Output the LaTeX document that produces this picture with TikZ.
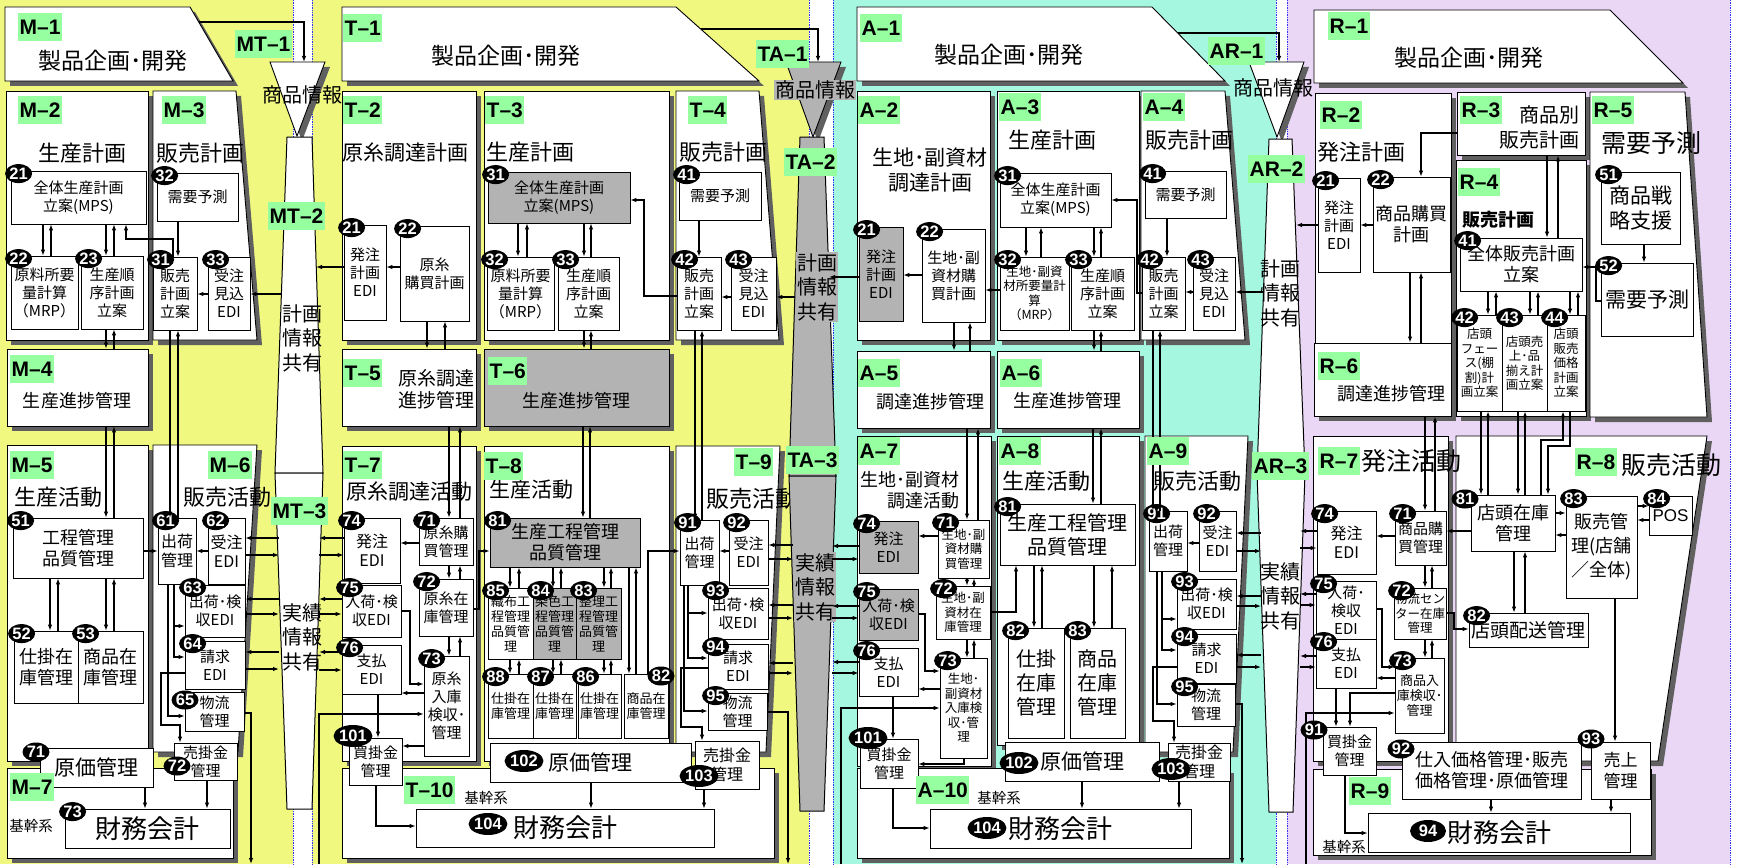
\documentclass[tikz,border=0pt]{standalone}
\usepackage{fontspec}
\setmainfont{Noto Sans CJK JP}
\newfontfamily\labfont{Liberation Sans}
\usetikzlibrary{shapes.geometric,shadows,arrows.meta}

\begin{document}
\begin{tikzpicture}[x=1pt,y=-1pt,>={Latex[length=6pt,width=4.5pt]},
    box/.style={draw,fill=white,line width=0.8pt,inner sep=0pt,align=center,font=\fontsize{15}{18}\selectfont},
    gfill/.style={fill=grayc},
    panel/.style={draw,fill=white,line width=0.9pt,drop shadow={shadow xshift=5pt,shadow yshift=-5pt,fill=shadowc,opacity=1}},
    bar/.style={draw,line width=1pt},
    bt/.style={font=\fontsize{20}{24.5}\selectfont,align=center,inner sep=1pt},
    num/.style={ellipse,fill=black,text=white,inner sep=0pt,minimum width=27pt,minimum height=19pt,font=\labfont\bfseries\fontsize{16.5}{16.5}\selectfont},
    numl/.style={num,minimum width=36pt,minimum height=22pt},
    tag/.style={fill=tagc,anchor=north west,inner xsep=1.5pt,inner ysep=0pt,minimum height=28pt,font=\labfont\bfseries\fontsize{21}{21}\selectfont},
    ar/.style={->,line width=1.1pt},
    f12/.style={font=\fontsize{12.5}{14.5}\selectfont},
    f13/.style={font=\fontsize{13}{15}\selectfont},
    f14/.style={font=\fontsize{14.5}{17}\selectfont},
    f16/.style={font=\fontsize{16}{19}\selectfont},
    f18/.style={font=\fontsize{18}{21}\selectfont},
    f19/.style={font=\fontsize{19}{22}\selectfont},
    f20/.style={font=\fontsize{20}{24}\selectfont},
    f21/.style={font=\fontsize{21}{25}\selectfont},
    f22/.style={font=\fontsize{22}{26}\selectfont},
    f23/.style={font=\fontsize{23}{26}\selectfont},
    f25/.style={font=\fontsize{25}{28}\selectfont},
    f26/.style={font=\fontsize{26}{30}\selectfont}]

    \definecolor{yelc}{HTML}{F0F880}
    \definecolor{cyac}{HTML}{A6F7E0}
    \definecolor{purc}{HTML}{EAD7F5}
    \definecolor{grayc}{HTML}{B3B3B3}
    \definecolor{shadowc}{HTML}{606060}
    \definecolor{tagc}{HTML}{96FFA0}

    % box from corners, with its number badge
    \newcommand{\blk}[8][]{%
      \pgfmathsetmacro\blkX{(#3+#5)/2}\pgfmathsetmacro\blkY{(#4+#6)/2}%
      \pgfmathsetmacro\blkW{#5-#3}\pgfmathsetmacro\blkH{#6-#4}%
      \node[box,minimum width=\blkW pt,minimum height=\blkH pt,#1] (#2) at (\blkX,\blkY) {#8};%
      \if\relax\detokenize{#7}\relax\else
        \node[num] (#2n) at ([shift={(8,3)}]#2.north west) {#7};\fi}
    % down and up arrow between two boxes
    \newcommand{\updown}[4]{%
      \draw[ar] (#1.south -| #3,0) -- (#2.north -| #3,0);
      \draw[ar] (#2.north -| #4,0) -- (#1.south -| #4,0);}

    \useasboundingbox (0,0) rectangle (1744,864);

    % Background bands
    \fill[white] (0,0) rectangle (1744,864);
    \fill[yelc] (0,0) rectangle (293,864);
    \fill[yelc] (312,0) rectangle (809,864);
    \fill[cyac] (833,0) rectangle (1276,864);
    \fill[purc] (1287,0) rectangle (1730,864);
    \foreach \x in {293,312,809,833,1276,1287,1730}
        \draw[blue!80,densely dotted,line width=0.7pt] (\x,0) -- (\x,864);

    % Bar edges
    \coordinate (mtl) at (279,0);  \coordinate (mtr) at (319,0);
    \coordinate (mtl2) at (281,0); \coordinate (mtr2) at (316,0);
    \coordinate (tal) at (793,0);  \coordinate (tar) at (832,0);
    \coordinate (tal2) at (795,0); \coordinate (tar2) at (829,0);
    \coordinate (arl) at (1261,0); \coordinate (arr) at (1300,0);
    \coordinate (arl2) at (1264,0); \coordinate (arr2) at (1296,0);
    \coordinate (mtf) at (304,62); \coordinate (taf) at (818,62); \coordinate (arf) at (1279,62);

    % Panels M
    \draw[panel] (5,7) -- (190,7) -- (233,81) -- (5,81) -- cycle;
    \blk[panel]{m2}{6}{91}{148}{340}{}{}
    \draw[panel] (153,91) -- (236,91) -- (257,340) -- (153,340) -- cycle;
    \blk[panel]{m4}{7}{349}{148}{426}{}{}
    \blk[panel]{m5}{7}{445}{148}{761}{}{}
    \draw[panel] (153,445) -- (257,445) -- (238,752) -- (153,752) -- cycle;
    \blk[panel]{m7}{7}{768}{233}{858}{}{}

    % Panels T
    \draw[panel] (342,7) -- (676,7) -- (759,81) -- (342,81) -- cycle;
    \blk[panel]{t2}{342}{91}{476}{340}{}{}
    \blk[panel]{t3}{484}{91}{669}{340}{}{}
    \draw[panel] (676,91) -- (759,91) -- (779,340) -- (676,340) -- cycle;
    \blk[panel]{t5}{342}{349}{476}{426}{}{}
    \blk[panel,gfill]{t6}{484}{349}{669}{426}{}{}
    \blk[panel]{t7}{342}{446}{476}{761}{}{}
    \blk[panel]{t8}{484}{446}{669}{761}{}{}
    \draw[panel] (676,446) -- (780,446) -- (766,752) -- (676,752) -- cycle;
    \blk[panel]{t10}{342}{768}{774}{858}{}{}

    % Panels A
    \draw[panel] (857,7) -- (1152,7) -- (1225,81) -- (857,81) -- cycle;
    \blk[panel]{a2}{857}{91}{990}{340}{}{}
    \blk[panel]{a3}{997}{91}{1139}{340}{}{}
    \draw[panel] (1141,91) -- (1225,91) -- (1245,340) -- (1141,340) -- cycle;
    \blk[panel]{a5}{857}{351}{990}{428}{}{}
    \blk[panel]{a6}{997}{351}{1139}{428}{}{}
    \blk[panel]{a7}{857}{436}{991}{766}{}{}
    \blk[panel]{a8}{997}{436}{1139}{745}{}{}
    \draw[panel] (1145,436) -- (1248,436) -- (1233,752) -- (1145,752) -- cycle;
    \blk[panel]{a10}{857}{768}{1229}{858}{}{}

    % Panels R
    \draw[panel] (1314,10) -- (1610,10) -- (1683,83) -- (1314,83) -- cycle;
    \blk[panel]{r2}{1315}{93}{1451}{343}{}{}
    \blk[panel]{r3}{1457}{92}{1585}{155}{}{}
    \blk[panel]{r4}{1456}{160}{1586}{416}{}{}
    \draw[panel] (1590,92) -- (1685,92) -- (1707,417) -- (1590,417) -- cycle;
    \blk[panel]{r6}{1314}{343}{1451}{416}{}{}
    \blk[panel]{r7}{1313}{436}{1448}{761}{}{}
    \draw[panel] (1456,436) -- (1707,436) -- (1658,761) -- (1456,761) -- cycle;
    \blk[panel]{r9}{1313}{769}{1651}{855}{}{}

    % Panel titles
    \node[f23] (m1t) at (113,61) {製品企画･開発};
    \node[f22] (m2t) at (82,153) {生産計画};
    \node[f22] (m3t) at (200,153) {販売計画};
    \node[f18] (m4t) at (77,401) {生産進捗管理};
    \node[f22] (m5t) at (58,497) {生産活動};
    \node[f22] (m6t) at (227,497) {販売活動};
    \node[f14] (m7t) at (31,826) {基幹系};
    \node[f23] (t1t) at (506,56) {製品企画･開発};
    \node[f21] (t2t) at (405,153) {原糸調達計画};
    \node[f22] (t3t) at (530,152) {生産計画};
    \node[f22] (t4t) at (723,152) {販売計画};
    \node[f19,align=center] (t5t) at (436,389) {原糸調達\\進捗管理};
    \node[f18] (t6t) at (576,401) {生産進捗管理};
    \node[f21] (t7t) at (409,492) {原糸調達活動};
    \node[f21] (t8t) at (531,490) {生産活動};
    \node[f23] (t9t) at (752,499) {販売活動};
    \node[f14] (t10t) at (486,798) {基幹系};
    \node[f23] (a1t) at (1009,55) {製品企画･開発};
    \node[f21,align=center] (a2t) at (930,170) {生地･副資材\\調達計画};
    \node[f22] (a3t) at (1052,140) {生産計画};
    \node[f22] (a4t) at (1189,140) {販売計画};
    \node[f18] (a5t) at (930,402) {調達進捗管理};
    \node[f18] (a6t) at (1067,401) {生産進捗管理};
    \node[f18,align=right,anchor=east] (a7t) at (963,490) {生地･副資材\\調達活動};
    \node[f22] (a8t) at (1046,481) {生産活動};
    \node[f22] (a9t) at (1197,481) {販売活動};
    \node[f14] (a10t) at (999,798) {基幹系};
    \node[f23] (r1t) at (1469,58) {製品企画･開発};
    \node[f22] (r2t) at (1361,152) {発注計画};
    \node[font=\fontsize{20}{25}\selectfont,align=right,anchor=east] (r3t) at (1583,127) {商品別\\販売計画};
    \node[font=\bfseries\fontsize{18}{21}\selectfont,anchor=west] (r4t) at (1459,220) {販売計画};
    \node[f25] (r5t) at (1651,143) {需要予測};
    \node[f18] (r6t) at (1391,394) {調達進捗管理};
    \node[f25] (r7t) at (1411,461) {発注活動};
    \node[f25] (r8t) at (1671,465) {販売活動};
    \node[f14] (r9t) at (1344,847) {基幹系};

    % Bars MT, TA, AR
    \draw[panel] (270,62) -- (325,62) -- (297,136) -- cycle;
    \draw[bar,fill=white] (287,137) -- (312,137) -- (323,473) -- (275,473) -- cycle;
    \draw[bar,fill=white] (275,473) -- (323,473) -- (312,809) -- (287,809) -- cycle;
    \node[bt] (mti) at (302,95) {商品情報};
    \node[bt] (mtp) at (302,338) {計画\\情報\\共有};
    \node[bt] (mtj) at (302,637) {実績\\情報\\共有};
    \draw[panel,fill=grayc] (786,62) -- (841,62) -- (813,137) -- cycle;
    \draw[bar,fill=grayc] (800,137) -- (824,137) -- (836,476) -- (789,476) -- cycle;
    \draw[bar,fill=grayc] (789,476) -- (836,476) -- (824,811) -- (800,811) -- cycle;
    \node[bt,fill=grayc] (tai) at (815,90) {商品情報};
    \node[bt,fill=grayc] (tap) at (817,287) {計画\\情報\\共有};
    \node[bt,fill=grayc] (taj) at (815,587) {実績\\情報\\共有};
    \draw[panel] (1249,62) -- (1304,62) -- (1277,137) -- cycle;
    \draw[bar,fill=white] (1269,139) -- (1292,139) -- (1305,473) -- (1257,473) -- cycle;
    \draw[bar,fill=white] (1257,473) -- (1305,473) -- (1293,812) -- (1269,812) -- cycle;
    \node[bt] (ari) at (1273,88) {商品情報};
    \node[bt] (arp) at (1280,293) {計画\\情報\\共有};
    \node[bt] (arj) at (1280,596) {実績\\情報\\共有};

    % Boxes M
    \blk{m21}{11}{171}{146}{224}{21}{全体生産計画\\立案(MPS)}
    \blk{m22}{11}{256}{78}{329}{22}{原料所要\\量計算\\（MRP）}
    \blk{m23}{81}{256}{143}{329}{23}{生産順\\序計画\\立案}
    \blk{m32}{157}{173}{238}{221}{32}{需要予測}
    \blk{m31}{153}{257}{197}{330}{31}{販売\\計画\\立案}
    \blk{m33}{208}{257}{250}{330}{33}{受注\\見込\\EDI}
    \blk[f18]{m51}{13}{518}{143}{578}{51}{工程管理\\品質管理}
    \blk[f18]{m52}{14}{631}{78}{703}{52}{仕掛在\\庫管理}
    \blk[f18]{m53}{78}{631}{143}{703}{53}{商品在\\庫管理}
    \blk[f16]{m61}{158}{518}{196}{584}{61}{出荷\\管理}
    \blk[f16]{m62}{208}{518}{245}{584}{62}{受注\\EDI}
    \blk{m63}{185}{585}{245}{637}{63}{出荷･検\\収EDI}
    \blk{m64}{185}{641}{245}{689}{64}{請求\\EDI}
    \blk{m65}{185}{692}{244}{731}{}{物流\\管理}
    \blk{m72}{174}{743}{237}{780}{}{売掛金\\管理}
    \blk[f21]{m71}{40}{748}{153}{787}{}{原価管理}
    \blk[f26]{m73}{65}{809}{230}{848}{73}{財務会計}

    % Boxes T
    \blk{t21}{344}{225}{386}{320}{21}{発注\\計画\\EDI}
    \blk{t22}{400}{226}{469}{321}{22}{原糸\\購買計画}
    \blk[gfill]{t31}{488}{172}{630}{223}{31}{全体生産計画\\立案(MPS)}
    \blk{t32}{487}{257}{554}{330}{32}{原料所要\\量計算\\（MRP）}
    \blk{t33}{558}{257}{619}{330}{33}{生産順\\序計画\\立案}
    \blk{t41}{679}{172}{761}{220}{41}{需要予測}
    \blk{t42}{677}{257}{721}{330}{42}{販売\\計画\\立案}
    \blk{t43}{731}{257}{776}{330}{43}{受注\\見込\\EDI}
    \blk[f16]{t74}{344}{518}{400}{583}{74}{発注\\EDI}
    \blk{t71}{419}{518}{473}{565}{71}{原糸購\\買管理}
    \blk{t72}{419}{579}{473}{636}{72}{原糸在\\庫管理}
    \blk{t75}{342}{585}{401}{637}{75}{入荷･検\\収EDI}
    \blk{t76}{342}{645}{401}{694}{76}{支払\\EDI}
    \blk{t73}{424}{656}{469}{756}{73}{原糸\\入庫\\検収･\\管理}
    \blk{t101}{349}{738}{402}{785}{}{買掛金\\管理}
    \blk[gfill,f18]{t81}{490}{518}{640}{567}{81}{生産工程管理\\品質管理}
    \blk[f13]{t85}{488}{588}{533}{659}{85}{織布工\\程管理\\品質管\\理}
    \blk[f13,gfill]{t84}{533}{588}{576}{659}{84}{染色工\\程管理\\品質管\\理}
    \blk[f13,gfill]{t83}{576}{588}{621}{659}{83}{整理工\\程管理\\品質管\\理}
    \blk[f13]{t88}{488}{674}{533}{738}{88}{仕掛在\\庫管理}
    \blk[f13]{t87}{533}{674}{576}{738}{87}{仕掛在\\庫管理}
    \blk[f13]{t86}{578}{674}{621}{738}{86}{仕掛在\\庫管理}
    \blk[f13]{t82}{624}{674}{668}{738}{}{商品在\\庫管理}
    \blk[f21]{t102}{490}{743}{691}{782}{}{原価管理}
    \blk[f16]{t103}{695}{741}{759}{789}{}{売掛金\\管理}
    \blk[f26]{t104}{416}{809}{714}{847}{}{財務会計}
    \blk{t91}{680}{520}{719}{585}{91}{出荷\\管理}
    \blk{t92}{729}{520}{768}{585}{92}{受注\\EDI}
    \blk{t93}{708}{588}{768}{639}{93}{出荷･検\\収EDI}
    \blk{t94}{708}{644}{768}{689}{94}{請求\\EDI}
    \blk{t95}{708}{693}{767}{730}{95}{物流\\管理}

    % Boxes A
    \blk[gfill]{a21}{859}{227}{903}{321}{21}{発注\\計画\\EDI}
    \blk{a22}{922}{229}{985}{322}{22}{生地･副\\資材購\\買計画}
    \blk{a31}{1000}{173}{1111}{227}{31}{全体生産計画\\立案(MPS)}
    \blk[f12]{a32}{1000}{257}{1069}{330}{32}{生地･副資\\材所要量計\\算\\（MRP）}
    \blk{a33}{1071}{257}{1134}{330}{33}{生産順\\序計画\\立案}
    \blk{a41}{1145}{171}{1226}{218}{41}{需要予測}
    \blk{a42}{1142}{257}{1185}{330}{42}{販売\\計画\\立案}
    \blk{a43}{1193}{257}{1235}{330}{43}{受注\\見込\\EDI}
    \blk[gfill]{a74}{859}{521}{918}{573}{74}{発注\\EDI}
    \blk[f12]{a71}{938}{520}{989}{578}{71}{生地･副\\資材購\\買管理}
    \blk[f12]{a72}{936}{586}{990}{639}{72}{生地･副\\資材在\\庫管理}
    \blk[f12]{a73}{940}{658}{987}{758}{73}{生地･\\副資材\\入庫検\\収･管\\理}
    \blk[gfill]{a75}{859}{589}{918}{640}{75}{入荷･検\\収EDI}
    \blk{a76}{859}{648}{918}{696}{76}{支払\\EDI}
    \blk{a101}{860}{739}{918}{788}{}{買掛金\\管理}
    \blk[f20]{a81}{1000}{504}{1135}{565}{81}{生産工程管理\\品質管理}
    \blk[f20]{a82}{1008}{628}{1064}{738}{82}{仕掛\\在庫\\管理}
    \blk[f20]{a83}{1070}{628}{1125}{738}{83}{商品\\在庫\\管理}
    \blk[f21]{a102}{1005}{742}{1159}{781}{}{原価管理}
    \blk[f16]{a103}{1168}{743}{1230}{781}{}{売掛金\\管理}
    \blk[f26]{a104}{930}{809}{1191}{848}{}{財務会計}
    \blk{a91}{1149}{511}{1187}{571}{91}{出荷\\管理}
    \blk{a92}{1199}{511}{1236}{571}{92}{受注\\EDI}
    \blk{a93}{1177}{579}{1236}{629}{93}{出荷･検\\収EDI}
    \blk{a94}{1177}{634}{1236}{683}{94}{請求\\EDI}
    \blk{a95}{1177}{684}{1235}{726}{95}{物流\\管理}

    % Boxes R
    \blk{r21}{1318}{178}{1360}{272}{21}{発注\\計画\\EDI}
    \blk[f18]{r22}{1373}{177}{1450}{272}{22}{商品購買\\計画}
    \blk[f18]{r41}{1460}{238}{1582}{291}{41}{全体販売計画\\立案}
    \blk[f12]{r42}{1457}{315}{1502}{411}{42}{店頭\\フェー\\ス(棚\\割)計\\画立案}
    \blk[f12]{r43}{1502}{315}{1547}{411}{43}{店頭売\\上･品\\揃え計\\画立案}
    \blk[f12]{r44}{1547}{315}{1585}{411}{44}{店頭\\販売\\価格\\計画\\立案}
    \blk[f21]{r51}{1601}{172}{1680}{244}{51}{商品戦\\略支援}
    \blk[f21]{r52}{1601}{263}{1693}{336}{52}{需要予測}
    \blk[f16]{r74}{1317}{511}{1376}{574}{74}{発注\\EDI}
    \blk{r71}{1395}{511}{1446}{565}{71}{商品購\\買管理}
    \blk{r75}{1316}{581}{1376}{639}{75}{入荷･\\検収\\EDI}
    \blk{r76}{1316}{639}{1376}{688}{76}{支払\\EDI}
    \blk[f12]{r72}{1394}{588}{1446}{639}{72}{物流セン\\ター在庫\\管理}
    \blk[f13]{r73}{1395}{658}{1444}{733}{73}{商品入\\庫検収･\\管理}
    \blk{r91}{1323}{727}{1376}{775}{}{買掛金\\管理}
    \blk[f18]{r81}{1471}{495}{1555}{551}{}{店頭在庫\\管理}
    \blk[font=\fontsize{18}{24}\selectfont]{r83}{1566}{496}{1637}{598}{83}{販売管\\理(店舗\\／全体)}
    \blk[font=\labfont\fontsize{17}{17}\selectfont]{r84}{1649}{496}{1692}{535}{84}{POS}
    \blk[f19]{r82}{1469}{613}{1588}{647}{82}{店頭配送管理}
    \blk[f18]{r92}{1402}{742}{1581}{799}{}{仕入価格管理･販売\\価格管理･原価管理}
    \blk[font=\fontsize{17}{21}\selectfont]{r93}{1591}{742}{1650}{799}{}{売上\\管理}
    \blk[f26]{r94}{1368}{813}{1630}{852}{}{財務会計}

    % Arrows M
    \draw[ar] (199,22) -| (mtf);
    \updown{m21}{m22}{43}{51}
    \updown{m21}{m23}{106}{114}
    \updown{m23}{m4}{106}{114}
    \updown{m4}{m51}{106}{114}
    \updown{m51}{m52}{50}{58}
    \updown{m51}{m53}{106}{114}
    \updown{m31}{m61}{170}{178}
    \draw[ar] (m32.south -| 178,0) -- (m31.north -| 178,0);
    \draw[ar] (m31.north -| 173,0) -- (173,239) -- (126,239) -- (m21.south -| 126,0);
    \draw[ar] (m33.west |- 0,294) -- (m31.east |- 0,294);
    \draw[ar] (mtl2 |- 0,294) -- (m33.east |- 0,294);
    \draw[ar] (mtl |- 0,538) -- (m62.east |- 0,538);
    \draw[ar] (m62.east |- 0,555) -- (mtl |- 0,555);
    \draw[ar] (m62.west |- 0,551) -- (m61.east |- 0,551);
    \draw[ar] (m51.east |- 0,551) -- (m61.west |- 0,551);
    \draw[ar] (mtl |- 0,599) -- (m63.east |- 0,599);
    \draw[ar] (m63.east |- 0,614) -- (mtl |- 0,614);
    \draw[ar] (mtl |- 0,652) -- (m64.east |- 0,652);
    \draw[ar] (m64.east |- 0,669) -- (mtl |- 0,669);
    \draw[ar] (m61.south -| 174,0) |- (m63.west |- 0,626);
    \draw[ar] (m61.south -| 174,0) |- (m64.west |- 0,657);
    \draw[ar] (m61.south -| 168,0) |- (m65.west |- 0,716);
    \draw[ar] (m64.west |- 0,673) -- (161,673) -- (161,725) -- (180,725) -- (m72.north -| 180,0);
    \draw[ar] (m65.east |- 0,713) -- (251,713) -- (251,864);
    \draw[ar] (m71.south -| 145,0) -- (m73.north -| 145,0);
    \draw[ar] (m72.south -| 207,0) -- (m73.north -| 207,0);

    % Arrows T
    \draw[ar] (701,29) -| (taf);
    \draw[ar] (t22.west |- 0,267) -- (t21.east |- 0,267);
    \draw[ar] (t21.west |- 0,267) -- (mtr2 |- 0,267);
    \updown{t22}{t5}{427}{445}
    \updown{t31}{t32}{518}{527}
    \updown{t31}{t33}{584}{591}
    \updown{t33}{t6}{584}{591}
    \draw[ar] (t41.south -| 699,0) -- (t42.north -| 699,0);
    \draw[ar] (t43.west |- 0,297) -- (t42.east |- 0,297);
    \draw[ar] (tal2 |- 0,297) -- (t43.east |- 0,297);
    \draw[ar] (t42.west |- 0,296) -- (644,296) -- (644,200) -- (t31.east |- 0,200);
    \updown{t42}{t91}{695}{702}
    \updown{t5}{t71}{449}{460}
    \updown{t6}{t81}{583}{590}
    \updown{t71}{t72}{449}{460}
    \updown{t72}{t73}{449}{460}
    \draw[ar] (t71.west |- 0,543) -- (t74.east |- 0,543);
    \draw[ar] (t74.west |- 0,538) -- (mtr |- 0,538);
    \draw[ar] (mtr |- 0,555) -- (t74.west |- 0,555);
    \draw[ar] (t75.west |- 0,599) -- (mtr |- 0,599);
    \draw[ar] (mtr |- 0,614) -- (t75.west |- 0,614);
    \draw[ar] (t76.west |- 0,652) -- (mtr |- 0,652);
    \draw[ar] (mtr |- 0,670) -- (t76.west |- 0,670);
    \draw[ar] (t72.east |- 0,609) -- (479,609) -- (479,551) -- (t81.west |- 0,551);
    \draw[ar] (t75.east |- 0,611) -- (410,611) -- (410,684) -- (t73.west |- 0,684);
    \draw[ar] (t73.west |- 0,693) -- (t76.east |- 0,693);
    \draw[ar] (319,864) -- (319,714) -- (t73.west |- 0,714);
    \draw[ar] (t76.south -| 378,0) -- (t101.north -| 378,0);
    \draw[ar] (t73.west |- 0,746) -- (t101.east |- 0,746);
    \draw[ar] (t101.south -| 376,0) -- (376,826) -- (t104.west |- 0,826);
    \updown{t81}{t85}{510}{519}
    \updown{t81}{t84}{553}{561}
    \updown{t81}{t83}{604}{611}
    \updown{t85}{t88}{510}{519}
    \updown{t84}{t87}{553}{561}
    \updown{t83}{t86}{604}{611}
    \updown{t81}{t82}{629}{636}
    \draw[ar] (t82.north -| 648,0) -- (648,551) -- (t91.west |- 0,551);
    \draw[ar] (t92.west |- 0,551) -- (t91.east |- 0,551);
    \draw[ar] (tal |- 0,545) -- (t92.east |- 0,545);
    \draw[ar] (t92.east |- 0,559) -- (tal |- 0,559);
    \draw[ar] (tal |- 0,605) -- (t93.east |- 0,605);
    \draw[ar] (t93.east |- 0,618) -- (tal |- 0,618);
    \draw[ar] (tal |- 0,663) -- (t94.east |- 0,663);
    \draw[ar] (t94.east |- 0,673) -- (tal |- 0,673);
    \draw[ar] (t91.south -| 688,0) |- (t93.west |- 0,613);
    \draw[ar] (t91.south -| 688,0) |- (t94.west |- 0,658);
    \draw[ar] (t91.south -| 684,0) |- (t95.west |- 0,711);
    \draw[ar] (t94.west |- 0,668) -- (681,668) -- (681,727) -- (702,727) -- (t103.north -| 702,0);
    \draw[ar] (t95.east |- 0,712) -- (788,712) -- (788,864);
    \draw[ar] (t102.south -| 591,0) -- (t104.north -| 591,0);
    \draw[ar] (t103.south -| 704,0) -- (t104.north -| 704,0);

    % Arrows A
    \draw[ar] (1178,33) -| (arf);
    \draw[ar] (a22.west |- 0,275) -- (a21.east |- 0,275);
    \draw[ar] (a21.west |- 0,277) -- (tar2 |- 0,277);
    \draw[ar] (a32.west |- 0,290) -- (a22.east |- 0,290);
    \updown{a22}{a5}{954}{970}
    \updown{a31}{a32}{1026}{1041}
    \updown{a31}{a33}{1094}{1101}
    \updown{a33}{a6}{1094}{1101}
    \draw[ar] (a41.south -| 1167,0) -- (a42.north -| 1167,0);
    \draw[ar] (a43.west |- 0,292) -- (a42.east |- 0,292);
    \draw[ar] (arl2 |- 0,292) -- (a43.east |- 0,292);
    \draw[ar] (a42.west |- 0,293) -- (1137,293) -- (1137,200) -- (a31.east |- 0,200);
    \updown{a42}{a91}{1153}{1160}
    \updown{a5}{a71}{967}{978}
    \updown{a6}{a81}{1093}{1101}
    \updown{a71}{a72}{967}{974}
    \updown{a72}{a73}{967}{974}
    \draw[ar] (a71.west |- 0,536) -- (a74.east |- 0,536);
    \draw[ar] (a74.west |- 0,546) -- (tar |- 0,546);
    \draw[ar] (tar |- 0,559) -- (a74.west |- 0,559);
    \draw[ar] (a75.west |- 0,606) -- (tar |- 0,606);
    \draw[ar] (tar |- 0,618) -- (a75.west |- 0,618);
    \draw[ar] (a76.west |- 0,662) -- (tar |- 0,662);
    \draw[ar] (tar |- 0,673) -- (a76.west |- 0,673);
    \draw[ar] (a72.east |- 0,612) -- (1016,612) -- (a81.south -| 1016,0);
    \draw[ar] (a75.east |- 0,614) -- (925,614) -- (925,671) -- (a73.west |- 0,671);
    \draw[ar] (a73.west |- 0,689) -- (a76.east |- 0,689);
    \draw[ar] (841,864) -- (841,708) -- (a73.west |- 0,708);
    \draw[ar] (a76.south -| 893,0) -- (a101.north -| 893,0);
    \draw[ar] (a73.south -| 964,0) -- (964,764) -- (a101.east |- 0,764);
    \draw[ar] (a101.south -| 893,0) -- (893,828) -- (a104.west |- 0,828);
    \updown{a81}{a82}{1034}{1042}
    \updown{a81}{a83}{1094}{1112}
    \draw[ar] (a102.south -| 1082,0) -- (a104.north -| 1082,0);
    \draw[ar] (a103.south -| 1179,0) -- (a104.north -| 1179,0);
    \draw[ar] (a92.west |- 0,543) -- (a91.east |- 0,543);
    \draw[ar] (arl |- 0,533) -- (a92.east |- 0,533);
    \draw[ar] (a92.east |- 0,551) -- (arl |- 0,551);
    \draw[ar] (arl |- 0,596) -- (a93.east |- 0,596);
    \draw[ar] (a93.east |- 0,606) -- (arl |- 0,606);
    \draw[ar] (arl |- 0,655) -- (a94.east |- 0,655);
    \draw[ar] (a94.east |- 0,667) -- (arl |- 0,667);
    \draw[ar] (a91.south -| 1162,0) |- (a93.west |- 0,619);
    \draw[ar] (a91.south -| 1162,0) |- (a94.west |- 0,650);
    \draw[ar] (a91.south -| 1157,0) |- (a95.west |- 0,704);
    \draw[ar] (a94.west |- 0,667) -- (1153,667) -- (1153,721) -- (1174,721) -- (a103.north -| 1174,0);
    \draw[ar] (a95.east |- 0,704) -- (1242,704) -- (1242,864);

    % Arrows R
    \draw[ar] (r22.west |- 0,225) -- (r21.east |- 0,225);
    \draw[ar] (r21.west |- 0,225) -- (arr2 |- 0,225);
    \draw[ar] (r3.west |- 0,133) -- (1421,133) -- (r22.north -| 1421,0);
    \updown{r22}{r6}{1410}{1421}
    \updown{r3}{r41}{1547}{1558}
    \draw[ar] (r52.west |- 0,301) -- (1596,301) -- (1596,267) -- (r41.east |- 0,267);
    \draw[ar] (r51.south -| 1644,0) -- (r52.north -| 1644,0);
    \updown{r41}{r42}{1488}{1496}
    \updown{r41}{r43}{1530}{1538}
    \updown{r41}{r44}{1570}{1578}
    \updown{r6}{r71}{1425}{1435}
    \updown{r42}{r81}{1481}{1488}
    \updown{r43}{r81}{1518}{1525}
    \draw[ar] (r44.south -| 1570,0) -- (1570,446) -- (1548,446) -- (r81.north -| 1548,0);
    \draw[ar] (r81.north -| 1541,0) -- (1541,440) -- (1563,440) -- (r44.south -| 1563,0);
    \draw[ar] (r81.west |- 0,531) -- (r71.east |- 0,531);
    \draw[ar] (r81.east |- 0,513) -- (r83.west |- 0,513);
    \draw[ar] (r83.west |- 0,535) -- (r81.east |- 0,535);
    \draw[ar] (r83.east |- 0,506) -- (r84.west |- 0,506);
    \draw[ar] (r84.west |- 0,520) -- (r83.east |- 0,520);
    \updown{r81}{r82}{1514}{1525}
    \draw[ar] (r83.south -| 1615,0) -- (r93.north -| 1615,0);
    \draw[ar] (r71.west |- 0,536) -- (r74.east |- 0,536);
    \draw[ar] (r74.west |- 0,531) -- (arr |- 0,531);
    \draw[ar] (arr |- 0,548) -- (r74.west |- 0,548);
    \draw[ar] (r75.west |- 0,594) -- (arr |- 0,594);
    \draw[ar] (arr |- 0,605) -- (r75.west |- 0,605);
    \draw[ar] (r76.west |- 0,656) -- (arr |- 0,656);
    \draw[ar] (arr |- 0,667) -- (r76.west |- 0,667);
    \updown{r71}{r72}{1425}{1432}
    \updown{r72}{r73}{1425}{1432}
    \draw[ar] (r72.east |- 0,613) -- (1454,613) -- (1454,629) -- (r82.west |- 0,629);
    \draw[ar] (r75.east |- 0,609) -- (1382,609) -- (1382,667) -- (r73.west |- 0,667);
    \draw[ar] (r73.west |- 0,678) -- (r76.east |- 0,678);
    \draw[ar] (r73.west |- 0,693) -- (1350,693) -- (r91.north -| 1350,0);
    \draw[ar] (r76.south -| 1336,0) -- (r91.north -| 1336,0);
    \draw[ar] (1306,864) -- (1306,713) -- (r73.west |- 0,713);
    \draw[ar] (r91.south -| 1345,0) -- (1345,833) -- (r94.west |- 0,833);
    \draw[ar] (r92.south -| 1491,0) -- (r94.north -| 1491,0);
    \draw[ar] (r93.south -| 1611,0) -- (r94.north -| 1611,0);

    % Badges placed by hand
    \node[num] (m65n) at (185,700) {65};
    \node[num] (m72n) at (177,766) {72};
    \node[num] (m71n) at (36,752) {71};
    \node[num] (t82n) at (661,676) {82};
    \node[numl] (t101n) at (353,736) {101};
    \node[numl] (t102n) at (524,761) {102};
    \node[numl] (t103n) at (699,776) {103};
    \node[numl] (t104n) at (488,824) {104};
    \node[numl] (a101n) at (868,738) {101};
    \node[numl] (a102n) at (1019,763) {102};
    \node[numl] (a103n) at (1171,769) {103};
    \node[numl] (a104n) at (987,828) {104};
    \node[num] (r81n) at (1465,499) {81};
    \node[num] (r91n) at (1314,730) {91};
    \node[num] (r92n) at (1401,749) {92};
    \node[num] (r93n) at (1591,739) {93};
    \node[numl] (r94n) at (1428,831) {94};

    % Tags
    \foreach \t/\x/\y [count=\i] in {M–1/18/13, M–2/18/96, M–3/162/96, M–4/10/355, M–5/10/451,
        M–6/208/451, M–7/10/773, MT–1/235/30, MT–2/268/202, MT–3/271/497,
        T–1/343/14, T–2/343/96, T–3/485/96, T–4/688/96, T–5/343/359, T–6/488/357,
        T–7/343/451, T–8/484/452, T–9/734/448, T–10/404/776, TA–1/756/40, TA–2/784/148,
        TA–3/786/446, A–1/860/14, A–2/858/96, A–3/999/93, A–4/1143/93, A–5/858/359,
        A–6/1000/359, A–7/858/437, A–8/999/437, A–9/1147/437, A–10/916/776,
        AR–1/1208/37, AR–2/1248/155, AR–3/1252/452, R–1/1328/12, R–2/1320/101,
        R–3/1460/96, R–4/1458/168, R–5/1592/96, R–6/1318/352, R–7/1318/447,
        R–8/1575/448, R–9/1349/777}
        \node[tag] (g\i) at (\x,\y) {\t};

\end{tikzpicture}
\end{document}
